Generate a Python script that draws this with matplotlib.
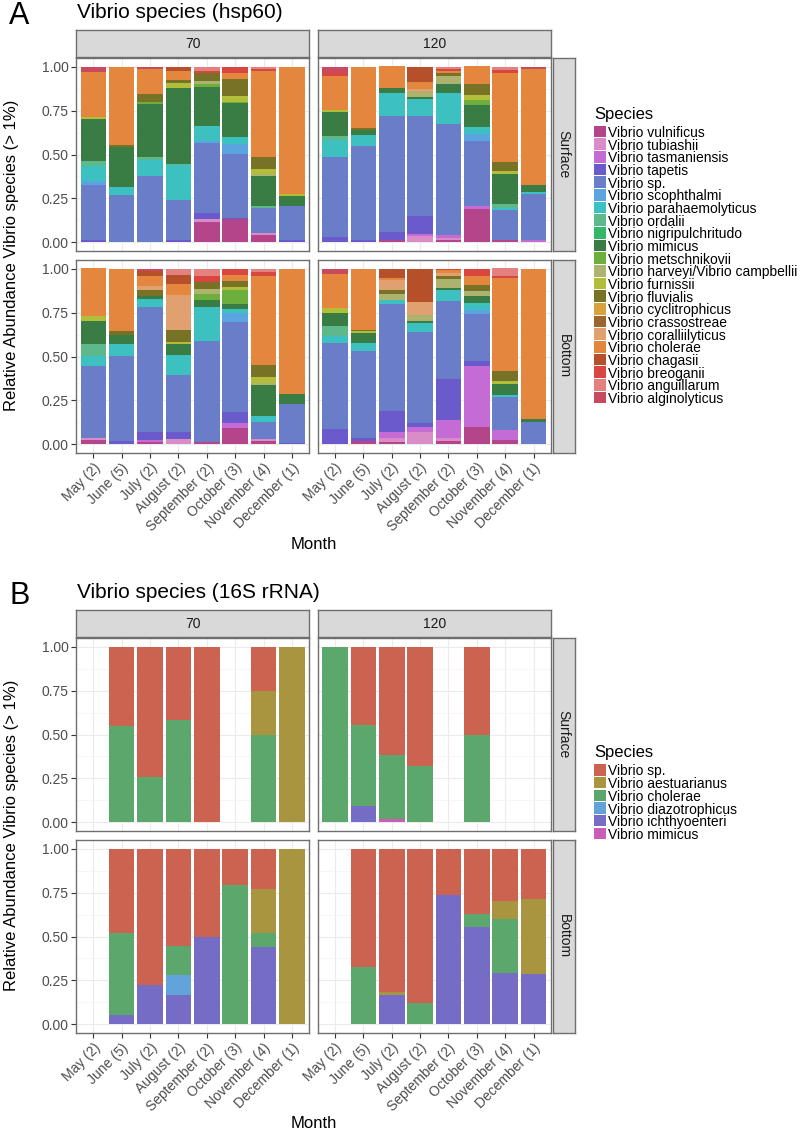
import matplotlib
matplotlib.use("Agg")
import matplotlib.pyplot as plt
from matplotlib.patches import Rectangle
import numpy as np

plt.rcParams["font.family"] = ["Liberation Sans", "DejaVu Sans"]

W, H = 800, 1134

months = ["May (2)", "June (5)", "July (2)", "August (2)", "September (2)",
          "October (3)", "November (4)", "December (1)"]
depths = ["70", "120"]
layers = ["Surface", "Bottom"]

# hsp60 species, bottom of the stack first (also legend order, top first)
species_a = ["Vibrio vulnificus", "Vibrio tubiashii", "Vibrio tasmaniensis",
             "Vibrio tapetis", "Vibrio sp.", "Vibrio scophthalmi",
             "Vibrio parahaemolyticus", "Vibrio ordalii", "Vibrio nigripulchritudo",
             "Vibrio mimicus", "Vibrio metschnikovii", "Vibrio harveyi/Vibrio campbellii",
             "Vibrio furnissii", "Vibrio fluvialis", "Vibrio cyclitrophicus",
             "Vibrio crassostreae", "Vibrio coralliilyticus", "Vibrio cholerae",
             "Vibrio chagasii", "Vibrio breoganii", "Vibrio anguillarum",
             "Vibrio alginolyticus"]
colors_a = ["#B5458A", "#D98CC8", "#C46BD6", "#6B5ACB", "#6A7DC8", "#5AA5E0",
            "#3CC0C0", "#5DB88B", "#33B86A", "#3A7D44", "#6DAF3C", "#ADB26E",
            "#B2BE38", "#787226", "#D8A33C", "#9C642F", "#E0A070", "#E5863F",
            "#B5502A", "#D9463F", "#E38080", "#C94A5E"]

# rows follow species_a, columns follow months
hsp_surface_70 = [
    [0, 0, 0, 0, .116, .13, .042, 0],
    [0, 0, 0, 0, .019, 0, .011, 0],
    [0, 0, 0, 0, 0, 0, 0, 0],
    [.015, 0, 0, .01, .034, .008, 0, .01],
    [.31, .268, .376, .23, .397, .363, .143, .198],
    [.025, 0, 0, 0, .009, .059, 0, 0],
    [.084, .048, .095, .2, .09, .038, 0, 0],
    [.03, 0, .015, .006, 0, 0, .011, 0],
    [0, 0, 0, 0, 0, 0, 0, 0],
    [.238, .224, .304, .435, .22, .194, .171, .057],
    [0, 0, .008, 0, .015, .01, 0, 0],
    [0, 0, 0, 0, .017, 0, .013, 0],
    [.013, 0, 0, .029, 0, .032, .029, .008],
    [0, .013, .049, .015, .048, .097, .067, 0],
    [0, 0, 0, 0, 0, 0, 0, 0],
    [0, 0, 0, 0, 0, 0, 0, 0],
    [0, 0, 0, 0, 0, 0, 0, 0],
    [.257, .447, .143, .051, 0, .032, .489, .727],
    [0, 0, 0, .025, 0, 0, 0, 0],
    [0, 0, 0, 0, .01, .038, .013, 0],
    [0, 0, 0, 0, .025, 0, .011, 0],
    [.028, 0, .01, 0, 0, 0, 0, 0],
]
hsp_surface_120 = [
    [0, 0, .01, 0, .011, .19, .011, 0],
    [0, 0, 0, .036, .011, 0, 0, 0],
    [0, 0, 0, .013, .021, .015, 0, .011],
    [.03, .015, .046, .103, 0, 0, 0, 0],
    [.456, .532, .664, .567, .633, .371, .171, .266],
    [0, 0, 0, 0, 0, .04, 0, 0],
    [.095, .063, .129, .097, .177, .042, .013, .01],
    [.023, 0, 0, 0, 0, 0, .025, 0],
    [0, 0, 0, 0, 0, 0, 0, 0],
    [.139, .032, .029, .013, .051, .124, .171, .042],
    [0, 0, 0, 0, 0, .029, 0, 0],
    [0, 0, 0, .032, .042, 0, 0, 0],
    [.01, 0, 0, 0, 0, .029, .013, 0],
    [0, .008, 0, 0, .019, .063, .053, 0],
    [0, 0, 0, 0, 0, 0, 0, 0],
    [0, 0, 0, 0, 0, 0, 0, 0],
    [0, 0, 0, .015, 0, 0, 0, 0],
    [.196, .35, .124, .038, .01, .099, .508, .656],
    [0, 0, 0, .086, 0, 0, 0, 0],
    [.013, 0, 0, 0, .01, 0, .015, 0],
    [0, 0, 0, 0, .015, 0, .019, 0],
    [.038, 0, 0, 0, 0, 0, 0, .015],
]
hsp_bottom_70 = [
    [.025, 0, .015, 0, .011, .095, .021, 0],
    [.01, 0, 0, .029, 0, 0, .008, 0],
    [0, 0, .01, 0, 0, .025, 0, 0],
    [0, .021, .044, .042, 0, .061, 0, .006],
    [.413, .483, .713, .321, .578, .513, .1, .224],
    [0, 0, 0, 0, 0, .053, 0, 0],
    [.057, .067, .048, .116, .192, .023, .032, 0],
    [.067, 0, 0, 0, 0, 0, 0, 0],
    [0, 0, 0, 0, 0, 0, 0, 0],
    [.129, .053, .013, .065, .042, .03, .177, .055],
    [0, 0, 0, 0, .032, .08, 0, 0],
    [0, 0, 0, 0, .03, 0, .013, 0],
    [.029, 0, 0, .011, 0, .015, .034, 0],
    [0, .019, .034, .067, .042, .036, .067, 0],
    [0, 0, 0, 0, 0, 0, 0, 0],
    [0, 0, 0, 0, 0, 0, 0, 0],
    [0, 0, .027, .198, 0, 0, 0, 0],
    [.272, .357, .053, .067, 0, .034, .508, .715],
    [0, 0, .029, .051, 0, 0, 0, 0],
    [0, 0, 0, 0, .029, .034, .019, 0],
    [0, 0, 0, .034, .044, 0, .021, 0],
    [0, 0, .015, 0, 0, 0, 0, 0],
]
hsp_bottom_120 = [
    [0, .021, .01, 0, .021, .101, .025, 0],
    [0, 0, .025, .067, .013, 0, 0, 0],
    [0, 0, .032, .034, .105, .346, .057, 0],
    [.086, .013, .12, .019, .232, .025, 0, 0],
    [.49, .5, .612, .517, .443, .272, .19, .125],
    [0, 0, 0, 0, 0, .023, 0, 0],
    [.042, .042, .025, .053, .067, .038, .01, 0],
    [.057, 0, 0, 0, 0, 0, 0, 0],
    [0, 0, 0, 0, 0, 0, 0, 0],
    [.072, .057, 0, .01, .01, .038, .063, .017],
    [0, 0, 0, 0, 0, 0, 0, 0],
    [0, 0, .034, .038, .051, .032, 0, 0],
    [.029, .013, 0, 0, 0, 0, .017, 0],
    [0, .006, .019, 0, .015, .034, .057, 0],
    [0, 0, 0, 0, 0, 0, 0, 0],
    [0, 0, 0, 0, 0, 0, 0, 0],
    [0, 0, .057, .07, .019, 0, 0, 0],
    [.196, .348, .013, 0, .015, .051, .529, .857],
    [0, 0, .053, .192, 0, 0, 0, 0],
    [0, 0, 0, 0, .01, .04, .01, 0],
    [0, 0, 0, 0, 0, 0, .044, 0],
    [.029, 0, 0, 0, 0, 0, 0, 0],
]

# 16S rRNA species, bottom of the stack first
species_b = ["Vibrio mimicus", "Vibrio ichthyoenteri", "Vibrio diazotrophicus",
             "Vibrio cholerae", "Vibrio aestuarianus", "Vibrio sp."]
colors_b = ["#C95DB8", "#756CC5", "#62A3D9", "#5BA76C", "#A99540", "#CC6350"]

rrna_surface_70 = [
    [0, 0, 0, 0, 0, 0, 0, 0],
    [0, 0, 0, 0, 0, 0, 0, 0],
    [0, 0, 0, 0, 0, 0, 0, 0],
    [0, .547, .256, .584, 0, 0, .5, 0],
    [0, 0, 0, 0, 0, 0, .25, 1],
    [0, .453, .744, .416, 1, 0, .25, 0],
]
rrna_surface_120 = [
    [0, 0, .019, 0, 0, 0, 0, 0],
    [0, .091, 0, 0, 0, 0, 0, 0],
    [0, 0, 0, 0, 0, 0, 0, 0],
    [1, .465, .366, .323, 0, .5, 0, 0],
    [0, 0, 0, 0, 0, 0, 0, 0],
    [0, .444, .615, .677, 0, .5, 0, 0],
]
rrna_bottom_70 = [
    [0, 0, 0, 0, 0, 0, 0, 0],
    [0, .055, .226, .167, .5, 0, .44, 0],
    [0, 0, 0, .112, 0, 0, 0, 0],
    [0, .467, 0, .165, 0, .795, .082, 0],
    [0, 0, 0, 0, 0, 0, .249, 1],
    [0, .478, .774, .556, .5, .205, .229, 0],
]
rrna_bottom_120 = [
    [0, 0, 0, 0, 0, 0, 0, 0],
    [0, 0, .169, 0, .736, .554, .292, .285],
    [0, 0, 0, 0, 0, 0, 0, 0],
    [0, .324, 0, .123, 0, .076, .306, 0],
    [0, 0, .013, 0, 0, 0, .104, .429],
    [0, .676, .818, .877, .264, .37, .298, .286],
]

BORDER = "#6E6E6E"
fig = plt.figure(figsize=(W / 100, H / 100), dpi=100)


def px_axes(x0, y0, x1, y1):
    return fig.add_axes([x0 / W, 1 - y1 / H, (x1 - x0) / W, (y1 - y0) / H])


def draw_panel(ax, table, colors, left, bottom):
    x = np.arange(1, len(months) + 1)
    base = np.zeros(len(months))
    for row, col in zip(table, colors):
        row = np.array(row, float)
        ax.bar(x, row, bottom=base, width=0.9, color=col, linewidth=0, zorder=2)
        base += row
    ax.set_xlim(0.4, 8.6)
    ax.set_ylim(-0.05, 1.05)
    ax.set_xticks(x)
    ax.set_yticks([0, .25, .5, .75, 1])
    ax.set_yticks([.125, .375, .625, .875], minor=True)
    ax.grid(which="major", color="#EBEBEB", lw=0.8, zorder=0)
    ax.grid(which="minor", axis="y", color="#F3F3F3", lw=0.5, zorder=0)
    ax.set_axisbelow(True)
    for s in ax.spines.values():
        s.set_color(BORDER)
        s.set_linewidth(1.0)
    ax.tick_params(which="major", length=3.5, width=0.8, color="#333333",
                   labelsize=10, labelcolor="#4D4D4D", pad=2)
    ax.tick_params(which="minor", length=0)
    if left:
        ax.set_yticklabels(["0.00", "0.25", "0.50", "0.75", "1.00"])
    else:
        ax.tick_params(axis="y", which="both", left=False, labelleft=False)
    if bottom:
        ax.set_xticklabels(months, rotation=45, ha="right", va="top",
                           rotation_mode="anchor")
    else:
        ax.tick_params(axis="x", bottom=False, labelbottom=False)


def strip(x0, y0, x1, y1, text, rot=0):
    ax = px_axes(x0, y0, x1, y1)
    ax.set_facecolor("#D9D9D9")
    ax.set_xticks([])
    ax.set_yticks([])
    for s in ax.spines.values():
        s.set_color(BORDER)
        s.set_linewidth(1.0)
    ax.text(0.5, 0.5, text, ha="center", va="center", rotation=rot,
            fontsize=10, color="#1A1A1A", transform=ax.transAxes)


def legend(x0, y_first, names, colors, step=12.67):
    ax = px_axes(0, 0, W, H)
    ax.set_xlim(0, W)
    ax.set_ylim(H, 0)
    ax.axis("off")
    ax.text(x0, y_first - 10, "Species", fontsize=12, ha="left", va="bottom",
            color="black")
    for i, (n, c) in enumerate(zip(names, colors)):
        yc = y_first + i * step
        ax.add_patch(Rectangle((x0, yc - 5.8), 11.6, 11.6, facecolor=c,
                               edgecolor="none"))
        ax.text(x0 + 14, yc, n, fontsize=10, ha="left", va="center_baseline",
                color="black")


def block(tag, title, top, tables, colors, names, month_y):
    # top = y of strip top in px
    strip_h = 27
    p_top = top + strip_h + 1
    p_h = 193
    gap = 9
    cols = [(76.3, 308.9), (318.0, 550.6)]
    for j, (x0, x1) in enumerate(cols):
        strip(x0, top, x1, top + strip_h, depths[j])
    for i in range(2):
        y0 = p_top + i * (p_h + gap)
        for j, (x0, x1) in enumerate(cols):
            ax = px_axes(x0, y0, x1, y0 + p_h)
            draw_panel(ax, tables[i][j], colors, left=(j == 0), bottom=(i == 1))
        strip(552.5, y0, 575, y0 + p_h, layers[i], rot=-90)
    bottom = p_top + 2 * p_h + gap
    fig.text(9 / W, 1 - (top - 6) / H, tag, fontsize=22, ha="left",
             va="baseline")
    fig.text(77 / W, 1 - (top - 12) / H, title, fontsize=15, ha="left",
             va="baseline")
    fig.text(12 / W, 1 - ((p_top + bottom) / 2) / H,
             "Relative Abundance Vibrio species (> 1%)", rotation=90,
             fontsize=12, ha="center", va="center")
    fig.text(313.5 / W, 1 - month_y / H, "Month", fontsize=12,
             ha="center", va="center")


block("A", "Vibrio species (hsp60)", 30,
      [[hsp_surface_70, hsp_surface_120], [hsp_bottom_70, hsp_bottom_120]],
      colors_a, species_a, 545)
legend(594, 131.5, species_a, colors_a)

block("B", "Vibrio species (16S rRNA)", 610,
      [[rrna_surface_70, rrna_surface_120], [rrna_bottom_70, rrna_bottom_120]],
      colors_b, species_b, 1124)
# legend for panel B is listed top-down in reverse stack order
legend(594, 770, species_b[::-1], colors_b[::-1])

fig.savefig("out.png", dpi=100)
